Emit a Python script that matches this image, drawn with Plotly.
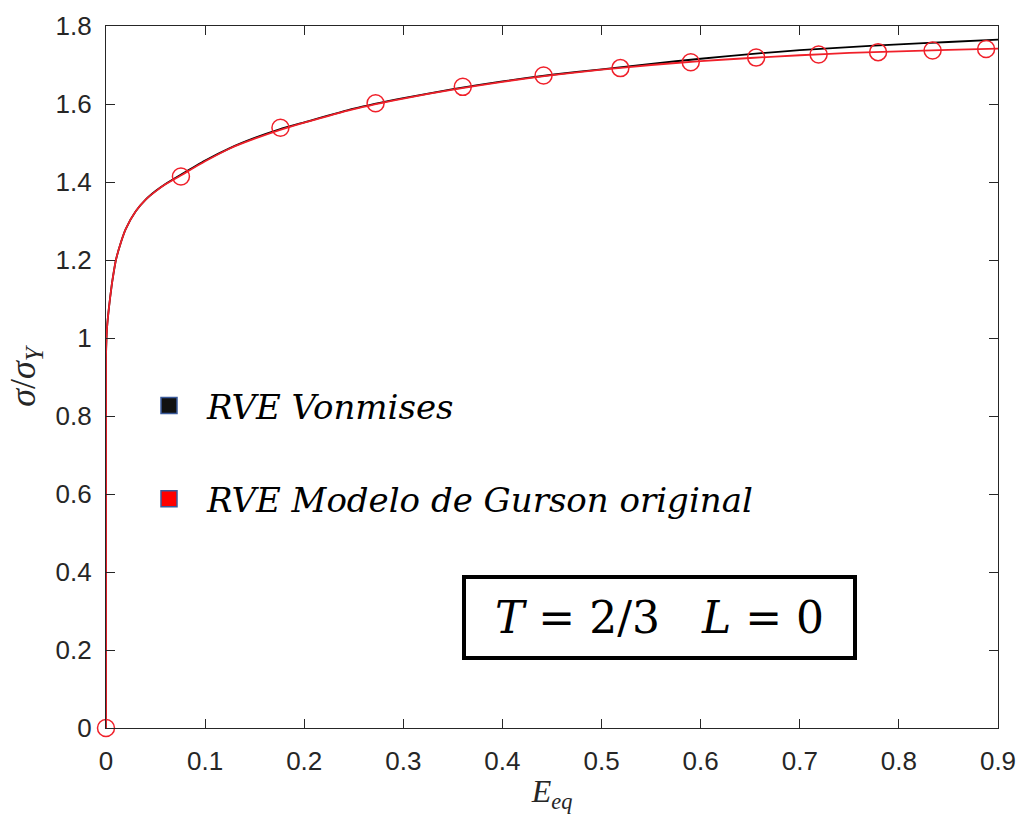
import plotly.graph_objects as go

# Black curve: RVE Von Mises
vm_x = [0, 0, 0.0005, 0.001, 0.002, 0.004, 0.006, 0.008, 0.01, 0.015, 0.02, 0.03, 0.04, 0.05, 0.06,
        0.075, 0.1, 0.125, 0.15, 0.175, 0.2, 0.25, 0.3, 0.35, 0.4, 0.45, 0.5, 0.55, 0.6, 0.65,
        0.7, 0.75, 0.8, 0.85, 0.9]
vm_y = [0, 0.95, 1.0, 1.025, 1.055, 1.10, 1.14, 1.172, 1.2, 1.245, 1.28, 1.325, 1.355, 1.377, 1.395,
        1.418, 1.455, 1.487, 1.513, 1.535, 1.553, 1.588, 1.615, 1.638, 1.658, 1.675, 1.689, 1.703,
        1.716, 1.728, 1.738, 1.746, 1.753, 1.759, 1.765]

# Red curve: RVE Modelo de Gurson original
gu_x = [0, 0, 0.0005, 0.001, 0.002, 0.004, 0.006, 0.008, 0.01, 0.015, 0.02, 0.03, 0.04, 0.05, 0.06,
        0.075, 0.1, 0.125, 0.15, 0.175, 0.2, 0.25, 0.3, 0.35, 0.4, 0.45, 0.5, 0.55, 0.6, 0.65,
        0.7, 0.75, 0.8, 0.85, 0.9]
gu_y = [0, 0.95, 1.0, 1.025, 1.055, 1.10, 1.14, 1.172, 1.2, 1.245, 1.28, 1.325, 1.355, 1.376, 1.394,
        1.416, 1.453, 1.486, 1.511, 1.533, 1.552, 1.587, 1.614, 1.637, 1.657, 1.674, 1.688, 1.700,
        1.710, 1.718, 1.725, 1.731, 1.735, 1.739, 1.742]

# Red circle markers
mk_x = [0, 0.0756, 0.176, 0.272, 0.360, 0.4415, 0.519, 0.590, 0.656, 0.719, 0.779, 0.834, 0.888]
mk_y = [0, 1.414, 1.539, 1.602, 1.644, 1.673, 1.692, 1.707, 1.719, 1.727, 1.733, 1.737, 1.741]

x_ticks = [0, 0.1, 0.2, 0.3, 0.4, 0.5, 0.6, 0.7, 0.8, 0.9]
y_ticks = [0, 0.2, 0.4, 0.6, 0.8, 1.0, 1.2, 1.4, 1.6, 1.8]
y_tick_text = ["0", "0.2", "0.4", "0.6", "0.8", "1", "1.2", "1.4", "1.6", "1.8"]

legend_names = ["RVE Vonmises", "RVE Modelo de Gurson original"]
red = "#f0202a"

fig = go.Figure()
fig.add_trace(go.Scatter(x=vm_x, y=vm_y, mode="lines", line=dict(color="black", width=1.8, shape="spline", smoothing=0.6),
                         showlegend=False))
fig.add_trace(go.Scatter(x=gu_x, y=gu_y, mode="lines", line=dict(color=red, width=1.8, shape="spline", smoothing=0.6),
                         showlegend=False))
fig.add_trace(go.Scatter(x=mk_x, y=mk_y, mode="markers", cliponaxis=False,
                         marker=dict(symbol="circle-open", size=17, color=red, line=dict(width=1.5, color=red)),
                         showlegend=False))
# legend entries
for name, col, grp in [(legend_names[0], "#111111", "a"), (legend_names[1], "#ff0000", "b")]:
    fig.add_trace(go.Scatter(x=[None], y=[None], mode="markers", name=name, legendgroup=grp,
                             marker=dict(symbol="square", size=18, color=col,
                                         line=dict(color="#3a5a9a", width=1.5))))

# plot area: screen x 106..998, y 26..728
fig.add_annotation(xref="paper", yref="paper", x=(659 - 106) / 892, y=(728 - 617) / 702,
                   xanchor="center", yanchor="middle",
                   text="<i>T</i> = 2/3   <i>L</i> = 0", showarrow=False,
                   font=dict(family="DejaVu Serif", size=44, color="black"),
                   bordercolor="black", borderwidth=4, borderpad=6, bgcolor="white",
                   width=375, height=65)

axis_common = dict(showline=True, linecolor="#262626", linewidth=1.2, mirror="ticks",
                   ticks="inside", ticklen=9, tickcolor="#262626", showgrid=False, zeroline=False,
                   automargin=False,
                   tickfont=dict(family="Liberation Sans", size=26, color="#262626"))

fig.update_layout(
    width=1020, height=814,
    margin=dict(l=106, r=22, t=26, b=86),
    paper_bgcolor="white", plot_bgcolor="white",
    xaxis=dict(range=[0, 0.9], tickvals=x_ticks, ticktext=[f"{v:g}" for v in x_ticks],
               ticklabelstandoff=10,
               title=dict(text="<i>E</i><sub><i>eq</i></sub>", standoff=4,
                          font=dict(family="Liberation Serif", size=32, color="#262626")),
               **axis_common),
    yaxis=dict(range=[0, 1.8], tickvals=y_ticks, ticktext=y_tick_text,
               ticklabelstandoff=8,
               title=dict(text="<i>σ</i>/<i>σ</i><sub><i>Y</i></sub>", standoff=8,
                          font=dict(family="Liberation Serif", size=36, color="#262626")),
               **axis_common),
    legend=dict(x=(131 - 106) / 892, y=(728 - 377) / 702, xanchor="left", yanchor="top",
                bgcolor="rgba(0,0,0,0)", tracegroupgap=46, itemwidth=66,
                font=dict(family="DejaVu Serif", size=34, color="black", style="italic")),
)

fig.write_html("out.html", config={"displayModeBar": False},
               post_script="document.body.style.margin='0';document.body.style.overflow='hidden';")
